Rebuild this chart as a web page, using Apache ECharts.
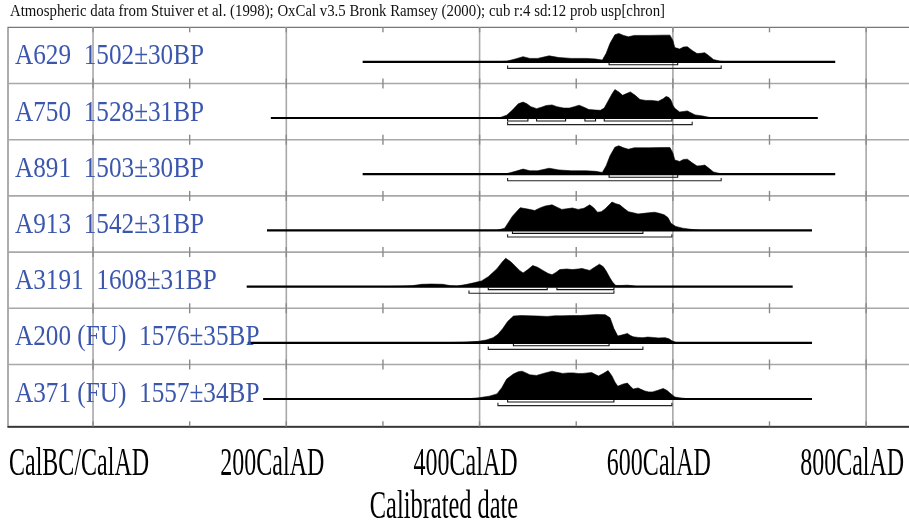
<!DOCTYPE html>
<html><head><meta charset="utf-8">
<style>html,body{margin:0;padding:0;background:#fff;}#chart{width:909px;height:523px;}</style>
<script src="https://cdn.jsdelivr.net/npm/echarts@6/dist/echarts.min.js"></script>
</head><body><div id="chart"></div>
<script>
// ---------- data ----------
const titleText = 'Atmospheric data from Stuiver et al. (1998); OxCal v3.5 Bronk Ramsey (2000); cub r:4 sd:12 prob usp[chron]';
const axisTitle = 'Calibrated date';
const tickValues = [0, 200, 400, 600, 800];
const tickLabels = ['CalBC/CalAD', '200CalAD', '400CalAD', '600CalAD', '800CalAD'];
const minorTicks = [0, 100, 200, 300, 400, 500, 600, 700, 800];
const sampleNames = ['A629', 'A750', 'A891', 'A913', 'A3191', 'A200 (FU)', 'A371 (FU)'];
const sampleDates = ['1502±30BP', '1528±31BP', '1503±30BP', '1542±31BP', '1608±31BP', '1576±35BP', '1557±34BP'];
const rangeStart = [279, 184, 279, 180, 159, 160, 176];
const rangeEnd = [768, 750, 768, 744, 724, 744, 744];

// [calendar year AD, relative probability (peak = 100)]
const distA629 = [[415,0],[428,2],[437,10],[445,18],[452,12],[460,12],[472,21],[482,15],[495,12],[510,12],[520,10],[527,6],[531,30],[535,65],[540,95],[544,100],[549,93],[554,88],[560,93],[575,93],[590,94],[597,94],[600,75],[602,50],[607,45],[611,52],[615,53],[620,40],[625,29],[629,30],[633,32],[637,22],[642,8],[649,2],[656,0]];
const distA750 = [[420,0],[428,10],[434,28],[440,50],[445,56],[449,50],[453,40],[459,33],[464,38],[469,44],[475,46],[480,40],[487,35],[493,35],[498,40],[503,45],[508,38],[513,30],[520,28],[525,27],[529,35],[533,60],[537,85],[540,100],[544,92],[548,80],[552,86],[556,92],[561,80],[566,65],[572,62],[578,62],[585,59],[590,68],[593,76],[596,72],[598,63],[600,45],[602,34],[607,21],[611,23],[615,25],[619,18],[623,11],[631,7],[641,0]];
const distA891 = [[415,0],[428,2],[437,10],[445,18],[452,12],[460,12],[472,21],[482,15],[495,12],[510,12],[520,10],[527,6],[531,30],[535,65],[540,95],[544,100],[549,93],[554,88],[560,93],[575,93],[590,94],[597,94],[600,75],[602,50],[607,45],[611,52],[615,53],[620,40],[625,29],[629,30],[633,32],[637,22],[642,8],[649,2],[656,0]];
const distA913 = [[418,0],[426,8],[434,50],[442,80],[450,75],[457,70],[463,80],[468,86],[475,90],[480,82],[485,74],[490,76],[496,79],[502,74],[508,78],[514,90],[518,80],[522,64],[526,66],[530,76],[537,100],[541,94],[545,90],[550,76],[554,66],[559,62],[564,58],[570,60],[575,62],[581,64],[586,60],[591,55],[595,45],[598,25],[603,14],[610,8],[618,4],[628,0]];
const distA3191 = [[300,0],[315,1],[330,3],[340,8],[350,9],[362,8],[370,3],[377,2],[387,8],[395,14],[402,20],[409,35],[418,63],[423,85],[427,100],[432,88],[437,72],[441,58],[445,48],[450,60],[455,74],[460,68],[466,56],[471,46],[475,42],[479,50],[483,60],[490,62],[496,60],[502,62],[506,64],[510,60],[514,57],[519,68],[524,79],[528,70],[531,55],[535,30],[538,14],[541,4],[547,4],[553,5],[558,3],[563,0]];
const distA200 = [[340,0],[370,1],[383,2],[399,5],[407,10],[414,18],[419,30],[424,50],[429,75],[435,94],[443,96],[452,95],[461,94],[470,93],[478,95],[486,95],[495,96],[504,96],[513,98],[522,100],[530,99],[535,88],[539,50],[543,24],[548,28],[553,33],[556,26],[559,21],[564,19],[569,18],[574,20],[579,19],[585,17],[592,18],[596,14],[599,7],[604,0]];
const distA371 = [[385,0],[399,4],[410,10],[418,18],[423,40],[428,70],[435,88],[440,96],[444,98],[448,92],[452,85],[459,83],[466,90],[475,98],[480,94],[486,90],[492,92],[497,92],[502,90],[507,90],[512,92],[516,93],[520,86],[523,81],[528,90],[533,100],[537,81],[540,60],[543,45],[548,52],[553,56],[556,45],[559,35],[564,39],[567,34],[571,28],[575,25],[579,25],[584,30],[590,37],[594,30],[597,21],[602,7],[607,4],[618,0]];

// 68.2% (1 sigma) and 95.4% (2 sigma) ranges, calendar years AD
const sigma1A629 = [[534,605]];
const sigma1A750 = [[429,450],[459,489],[509,520],[529,599]];
const sigma1A891 = [[534,605]];
const sigma1A913 = [[434,569]];
const sigma1A3191 = [[409,470],[480,539]];
const sigma1A200 = [[435,534]];
const sigma1A371 = [[429,539]];
const sigma2A629 = [[429,650]];
const sigma2A750 = [[429,620]];
const sigma2A891 = [[429,650]];
const sigma2A913 = [[429,599]];
const sigma2A3191 = [[389,539]];
const sigma2A200 = [[409,569]];
const sigma2A371 = [[419,599]];

const distributions = [distA629, distA750, distA891, distA913, distA3191, distA200, distA371];
const sigma1 = [sigma1A629, sigma1A750, sigma1A891, sigma1A913, sigma1A3191, sigma1A200, sigma1A371];
const sigma2 = [sigma2A629, sigma2A750, sigma2A891, sigma2A913, sigma2A3191, sigma2A200, sigma2A371];

// ---------- layout / style ----------
const X_MIN = -88, X_MAX = 854.7;
const Y_MIN = -0.1, Y_MAX = 7;
const ROWS = 7;
const BASE_OFFSET = 0.614;      // baseline below row top (in row units)
const PEAK = 0.505 / 100;       // row units per probability unit
const SERIF = '"Liberation Serif", "Times New Roman", serif';
const BLUE = '#3b56ad';
const GRIDC = '#a8a8a8';

function rowBase(i) { return ROWS - i - BASE_OFFSET; }

const measureCtx = document.createElement('canvas').getContext('2d');
function fitScale(text, font, target) {
  measureCtx.font = font;
  return target / measureCtx.measureText(text).width;
}

const chart = echarts.init(document.getElementById('chart'), null, { renderer: 'canvas' });

const titleFont = '16px ' + SERIF;
const titleScale = fitScale(titleText, titleFont, 655);

const option = {
  animation: false,
  backgroundColor: '#fff',
  grid: { left: 8, top: 27.3, width: 911, height: 399, show: true, borderColor: '#777', borderWidth: 1.2, backgroundColor: 'transparent', outerBoundsMode: 'none', containLabel: false },
  xAxis: {
    type: 'value', min: X_MIN, max: X_MAX,
    axisLine: { show: true, onZero: false, lineStyle: { color: '#222', width: 1.6 } },
    axisTick: { show: false }, axisLabel: { show: false }, splitLine: { show: false }
  },
  yAxis: {
    type: 'value', min: Y_MIN, max: Y_MAX,
    axisLine: { show: false }, axisTick: { show: false }, axisLabel: { show: false }, splitLine: { show: false }
  },
  graphic: [
    { type: 'text', x: 10, y: 11.5, scaleX: titleScale, style: { text: titleText, font: titleFont, fill: '#111', align: 'left', verticalAlign: 'middle' } },
    { type: 'text', x: 444, y: 507, scaleX: 0.61, style: { text: axisTitle, font: '40px ' + SERIF, fill: '#000', align: 'center', verticalAlign: 'middle' } }
  ],
  series: [
    // row separators
    {
      type: 'custom', z: 1, silent: true,
      data: [1, 2, 3, 4, 5, 6].map(v => [X_MIN, v]),
      encode: { x: 0, y: 1 },
      renderItem: function (params, api) {
        const a = api.coord([X_MIN, api.value(1)]);
        const b = api.coord([X_MAX, api.value(1)]);
        return { type: 'line', shape: { x1: a[0], y1: a[1], x2: b[0], y2: b[1] }, style: { stroke: GRIDC, lineWidth: 1.6 } };
      }
    },
    // vertical grid lines and ticks
    {
      type: 'custom', z: 2, silent: true,
      data: minorTicks.map(v => [v, 0]),
      encode: { x: 0, y: 1 },
      renderItem: function (params, api) {
        const v = api.value(0);
        const top = api.coord([v, Y_MAX]);
        const bot = api.coord([v, Y_MIN]);
        const children = [];
        if (v % 200 === 0) {
          children.push({ type: 'line', shape: { x1: top[0], y1: top[1], x2: bot[0], y2: bot[1] }, style: { stroke: GRIDC, lineWidth: 1.6 } });
        }
        for (let r = 0; r <= ROWS; r++) {
          const yv = r === 0 ? Y_MIN : r;
          const p = api.coord([v, yv]);
          const up = r === ROWS ? 0 : 5;
          const dn = r === 0 ? 0 : 5;
          children.push({ type: 'line', shape: { x1: p[0], y1: p[1] - (r === 0 ? 5 : up), x2: p[0], y2: p[1] + (r === 0 ? 0 : dn) }, style: { stroke: '#8a8a8a', lineWidth: 1.4 } });
        }
        return { type: 'group', children: children };
      }
    },
    // distributions, baselines, ranges
    {
      type: 'custom', z: 3, silent: true,
      data: sampleNames.map((n, i) => [rangeStart[i], rowBase(i), i]),
      encode: { x: 0, y: 1 },
      renderItem: function (params, api) {
        const i = api.value(2);
        const base = rowBase(i);
        const pts = distributions[i].map(d => api.coord([d[0], base + d[1] * PEAK]));
        const a = api.coord([rangeStart[i], base]);
        const b = api.coord([rangeEnd[i], base]);
        const by = a[1];
        const children = [
          { type: 'polygon', shape: { points: pts }, style: { fill: '#000', stroke: '#000', lineWidth: 0.6 } },
          { type: 'line', shape: { x1: a[0], y1: by, x2: b[0], y2: by }, style: { stroke: '#000', lineWidth: 2.2 } }
        ];
        sigma1[i].forEach(s => {
          const x1 = api.coord([s[0], base])[0], x2 = api.coord([s[1], base])[0];
          const y = by + 3;
          children.push({ type: 'polyline', shape: { points: [[x1, by + 0.8], [x1, y], [x2, y], [x2, by + 0.8]] }, style: { stroke: '#111', lineWidth: 1.1, fill: null } });
        });
        sigma2[i].forEach(s => {
          const x1 = api.coord([s[0], base])[0], x2 = api.coord([s[1], base])[0];
          const y = by + 6.6;
          children.push({ type: 'polyline', shape: { points: [[x1, y - 2.8], [x1, y], [x2, y], [x2, y - 2.8]] }, style: { stroke: '#222', lineWidth: 1.1, fill: null } });
        });
        return { type: 'group', children: children };
      }
    },
    // row labels
    {
      type: 'custom', z: 4, silent: true,
      data: sampleNames.map((n, i) => [X_MIN, rowBase(i), i]),
      encode: { x: 0, y: 1 },
      renderItem: function (params, api) {
        const i = api.value(2);
        const p = api.coord([X_MIN, rowBase(i)]);
        return { type: 'text', x: 15, y: p[1] - 5, scaleX: 0.87,
          style: { text: sampleNames[i] + '  ' + sampleDates[i], font: '29px ' + SERIF, fill: BLUE, align: 'left', verticalAlign: 'middle' } };
      }
    },
    // x tick labels
    {
      type: 'custom', z: 4, silent: true, clip: false,
      data: tickValues.map((v, i) => [v, Y_MIN, i]),
      encode: { x: 0, y: 1 },
      renderItem: function (params, api) {
        const i = api.value(2);
        const p = api.coord([api.value(0), Y_MIN]);
        return { type: 'text', x: p[0] - 14, y: p[1] + 38, scaleX: 0.6,
          style: { text: tickLabels[i], font: '40px ' + SERIF, fill: '#000', align: 'center', verticalAlign: 'middle' } };
      }
    }
  ]
};
chart.setOption(option);
</script>
</body></html>
